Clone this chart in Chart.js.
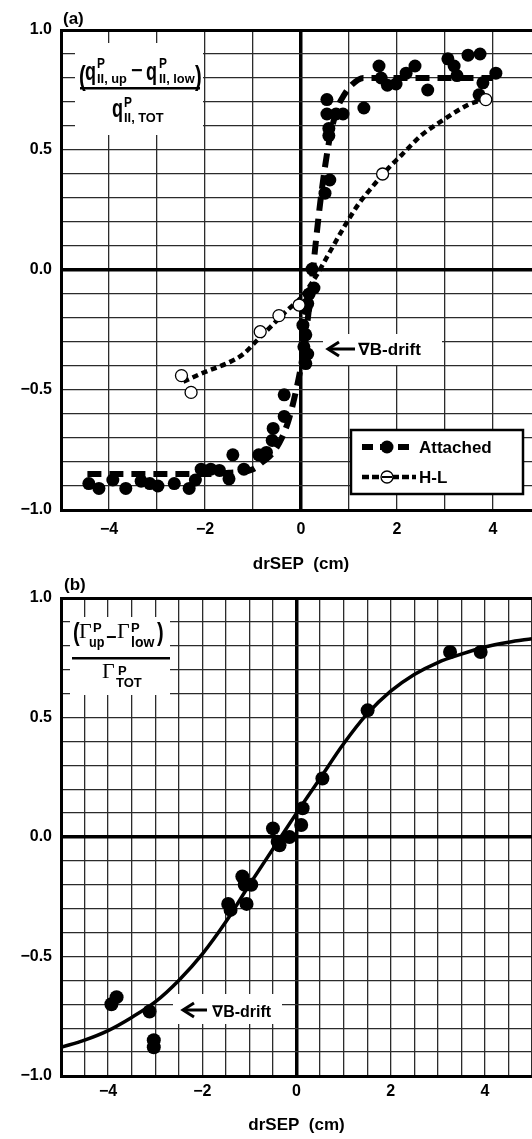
<!DOCTYPE html>
<html><head><meta charset="utf-8">
<script src="https://cdn.jsdelivr.net/npm/chart.js@4.4.1/dist/chart.umd.min.js"></script>
<style>
html,body{margin:0;padding:0;background:#fff;overflow:hidden;width:532px;height:1139px;}
#ca{position:absolute;left:0;top:0;}
#cb{position:absolute;left:0;top:570px;}
</style></head><body>
<canvas id="ca" width="551" height="580"></canvas>
<canvas id="cb" width="539" height="569"></canvas>
<script>
// ---------- DATA ----------
const xTickLabels = [-4, -2, 0, 2, 4];
const yTickLabels = [1.0, 0.5, 0.0, -0.5, -1.0];

// Panel (a) - Attached (filled dots)
const attX = [-4.42,-4.21,-3.92,-3.65,-3.33,-3.15,-2.98,-2.64,-2.33,-2.2,-2.08,-1.88,-1.7,-1.5,-1.42,-1.19,-0.88,-0.72,-0.6,-0.58,-0.35,-0.35,
  0.04,0.1,0.06,0.14,0.1,0.14,0.1,0.17,0.27,0.23,
  0.5,0.6,0.58,0.58,0.54,0.54,0.73,0.875,1.31,
  1.625,1.67,1.8,1.98,2.19,2.375,2.64,3.06,3.19,3.25,3.48,3.73,4.06,3.79,3.71];
const attY = [-0.89,-0.91,-0.875,-0.91,-0.88,-0.89,-0.90,-0.89,-0.91,-0.875,-0.83,-0.83,-0.835,-0.87,-0.77,-0.83,-0.77,-0.76,-0.71,-0.66,-0.61,-0.52,
  -0.23,-0.27,-0.32,-0.35,-0.39,-0.14,-0.16,-0.10,-0.075,0.004,
  0.32,0.375,0.56,0.59,0.65,0.71,0.65,0.65,0.675,
  0.85,0.80,0.77,0.775,0.82,0.85,0.75,0.88,0.85,0.81,0.895,0.90,0.82,0.78,0.73];
// Panel (a) - Attached fit (thick dashed)
const attFitX = [-4.45,-3,-2,-1.5,-1.0,-0.8,-0.6,-0.4,-0.25,-0.1,0.0,0.1,0.2,0.3,0.4,0.5,0.6,0.75,0.9,1.05,1.3,2,3,4];
const attFitY = [-0.85,-0.85,-0.85,-0.845,-0.83,-0.80,-0.765,-0.70,-0.62,-0.50,-0.40,-0.27,-0.10,0.10,0.28,0.43,0.55,0.67,0.73,0.77,0.80,0.80,0.80,0.80];
// Panel (a) - H-L (open circles)
const hlX = [-2.49,-2.29,-0.85,-0.46,-0.04,1.70,3.85];
const hlY = [-0.44,-0.51,-0.257,-0.19,-0.146,0.40,0.71];
// Panel (a) - H-L fit (short dashes)
const hlFitX = [-2.45,-2,-1.5,-1.2,-0.9,-0.6,-0.3,0,0.3,0.6,0.9,1.2,1.5,1.8,2.1,2.5,3.0,3.5,3.8];
const hlFitY = [-0.465,-0.425,-0.385,-0.35,-0.29,-0.23,-0.17,-0.115,-0.03,0.075,0.18,0.275,0.35,0.42,0.48,0.56,0.63,0.69,0.71];

// Panel (b) - points
const bX = [-3.93,-3.82,-3.12,-3.03,-3.03,-1.45,-1.4,-1.15,-1.1,-0.96,-1.06,-0.5,-0.4,-0.36,-0.15,0.1,0.13,0.55,1.51,3.26,3.91];
const bY = [-0.70,-0.67,-0.73,-0.85,-0.88,-0.28,-0.305,-0.165,-0.2,-0.2,-0.28,0.036,-0.02,-0.035,0.0,0.05,0.12,0.245,0.53,0.774,0.774];
// Panel (b) - fit (solid)
const bFitX = [-5,-4.5,-4,-3.5,-3,-2.5,-2,-1.5,-1,-0.5,0,0.5,1,1.5,2,2.5,3,3.5,4,4.5,5];
const bFitY = [-0.88,-0.85,-0.81,-0.755,-0.69,-0.60,-0.49,-0.355,-0.20,-0.05,0.10,0.245,0.39,0.515,0.61,0.68,0.73,0.765,0.795,0.815,0.83];

// ---------- HELPERS ----------
const FONT = "'Liberation Sans', Arial, 'DejaVu Sans', sans-serif";
const SERIF = "'Liberation Serif', 'DejaVu Serif', serif";
function fmtNum(v, d) { return (v < -1e-9 ? '\u2212' : '') + Math.abs(v).toFixed(d); }
function toPts(xs, ys) { return xs.map((x, i) => ({ x: x, y: ys[i] })); }
function near(a, b) { return Math.abs(a - b) < 1e-6; }

function makeScales(xStep, xAxisH, titlePadBottom, tickPadX) {
  return {
    x: {
      type: 'linear', min: -5, max: 5,
      ticks: {
        stepSize: xStep, autoSkip: false, maxRotation: 0, padding: tickPadX, color: '#000',
        font: { family: FONT, size: 16, weight: 'bold' },
        callback: (v) => { const m = xTickLabels.find(t => near(t, v)); return m === undefined ? '' : fmtNum(m, 0); }
      },
      grid: {
        drawTicks: false,
        color: (c) => (c.tick && near(c.tick.value, 0)) ? '#000' : '#2b2b2b',
        lineWidth: (c) => (c.tick && near(c.tick.value, 0)) ? 3.5 : 1.3
      },
      border: { display: true, color: '#000', width: 3 },
      title: { display: true, text: 'drSEP  (cm)', color: '#000', font: { family: FONT, size: 17, weight: 'bold' }, padding: { top: 0, bottom: titlePadBottom } },
      afterFit: (s) => { s.height = xAxisH; }
    },
    y: {
      type: 'linear', min: -1, max: 1,
      ticks: {
        stepSize: 0.1, autoSkip: false, padding: 9, color: '#000',
        font: { family: FONT, size: 16, weight: 'bold' },
        callback: (v) => { const m = yTickLabels.find(t => near(t, v)); return m === undefined ? '' : fmtNum(m, 1); }
      },
      grid: {
        drawTicks: false,
        color: (c) => (c.tick && (near(c.tick.value, 0) || near(c.tick.value, 1))) ? '#000' : '#2b2b2b',
        lineWidth: (c) => (c.tick && near(c.tick.value, 0)) ? 3.5 : ((c.tick && near(c.tick.value, 1)) ? 3 : 1.3)
      },
      border: { display: true, color: '#000', width: 3 },
      afterFit: (s) => { s.width = 61; }
    }
  };
}

function t(ctx, s, x, y, size, weight, family, sx) {
  ctx.save();
  ctx.font = (weight || 'bold') + ' ' + size + 'px ' + (family || FONT);
  ctx.fillStyle = '#000';
  ctx.textAlign = 'left';
  ctx.textBaseline = 'alphabetic';
  ctx.translate(x, y);
  ctx.scale(sx || 1, 1);
  ctx.fillText(s, 0, 0);
  ctx.restore();
}
function arrowLeft(ctx, x, y, len) {
  ctx.save();
  ctx.strokeStyle = '#000'; ctx.lineWidth = 3; ctx.lineCap = 'butt'; ctx.lineJoin = 'miter';
  ctx.beginPath(); ctx.moveTo(x + 1, y); ctx.lineTo(x + len, y); ctx.stroke();
  ctx.beginPath(); ctx.moveTo(x + 12, y - 7); ctx.lineTo(x + 1, y); ctx.lineTo(x + 12, y + 7); ctx.stroke();
  ctx.restore();
}

const annA = {
  id: 'annA',
  afterDraw(chart) {
    const ctx = chart.ctx;
    ctx.save();
    t(ctx, '(a)', 63, 23.5, 17);
    // label box
    ctx.fillStyle = '#fff'; ctx.fillRect(75, 43, 128, 92);
    t(ctx, '(', 79, 85, 27, 'bold', FONT, 0.75);
    t(ctx, 'q', 85, 80, 25, 'bold', FONT, 0.72);
    t(ctx, 'P', 97, 68, 14, 'bold', FONT, 0.85);
    t(ctx, 'II, up', 97, 83, 13.5, 'bold', FONT, 0.95);
    t(ctx, '\u2212', 131, 77, 20);
    t(ctx, 'q', 146, 80, 25, 'bold', FONT, 0.72);
    t(ctx, 'P', 159, 68, 14, 'bold', FONT, 0.85);
    t(ctx, 'II, low', 159, 83, 13.5, 'bold', FONT, 0.95);
    t(ctx, ')', 195, 85, 27, 'bold', FONT, 0.75);
    ctx.fillStyle = '#000'; ctx.fillRect(80, 87, 120, 2.5);
    t(ctx, 'q', 112, 117, 25, 'bold', FONT, 0.72);
    t(ctx, 'P', 124, 107, 14, 'bold', FONT, 0.85);
    t(ctx, 'II, TOT', 124, 122, 13.5, 'bold', FONT, 0.95);
    // grad-B drift
    ctx.fillStyle = '#fff'; ctx.fillRect(323, 334, 119, 31);
    arrowLeft(ctx, 327, 349, 28);
    t(ctx, '\u2207B-drift', 358, 355, 17);
    // legend
    ctx.fillStyle = '#fff'; ctx.fillRect(351, 430, 172, 64);
    ctx.strokeStyle = '#000'; ctx.lineWidth = 2.5; ctx.strokeRect(351, 430, 172, 64);
    ctx.lineWidth = 6; ctx.setLineDash([11, 7]);
    ctx.beginPath(); ctx.moveTo(362, 447); ctx.lineTo(416, 447); ctx.stroke();
    ctx.fillStyle = '#000'; ctx.beginPath(); ctx.arc(387, 447, 6.5, 0, Math.PI * 2); ctx.fill();
    ctx.lineWidth = 4.5; ctx.setLineDash([7, 3]);
    ctx.beginPath(); ctx.moveTo(362, 477); ctx.lineTo(416, 477); ctx.stroke();
    ctx.setLineDash([]);
    ctx.fillStyle = '#fff'; ctx.beginPath(); ctx.arc(387, 477, 6, 0, Math.PI * 2); ctx.fill();
    ctx.lineWidth = 1.3; ctx.stroke();
    ctx.lineWidth = 2; ctx.beginPath(); ctx.moveTo(382, 477); ctx.lineTo(392, 477); ctx.stroke();
    t(ctx, 'Attached', 419, 453, 17);
    t(ctx, 'H-L', 419, 483, 17);
    ctx.restore();
  }
};

const annB = {
  id: 'annB',
  afterDraw(chart) {
    const ctx = chart.ctx;
    const o = 570;
    ctx.save();
    t(ctx, '(b)', 64, 590 - o, 17);
    ctx.fillStyle = '#fff'; ctx.fillRect(70, 617 - o, 100, 78);
    t(ctx, '(', 73, 641 - o, 25, 'bold', FONT, 0.8);
    t(ctx, '\u0393', 79, 638 - o, 22, 'normal', SERIF);
    t(ctx, 'P', 93, 632 - o, 13);
    t(ctx, 'up', 89, 647 - o, 14, 'bold', FONT, 0.9);
    t(ctx, '\u2212', 106, 643 - o, 18);
    t(ctx, '\u0393', 117, 638 - o, 22, 'normal', SERIF);
    t(ctx, 'P', 131, 632 - o, 13);
    t(ctx, 'low', 131, 647 - o, 14);
    t(ctx, ')', 157, 641 - o, 25, 'bold', FONT, 0.8);
    ctx.fillStyle = '#000'; ctx.fillRect(72, 657 - o, 98, 2.5);
    t(ctx, '\u0393', 102, 678 - o, 22, 'normal', SERIF);
    t(ctx, 'P', 118, 675 - o, 13);
    t(ctx, 'TOT', 116, 687 - o, 13);
    ctx.fillStyle = '#fff'; ctx.fillRect(173, 994 - o, 109, 30);
    arrowLeft(ctx, 182, 1010 - o, 25);
    t(ctx, '\u2207B-drift', 212, 1017 - o, 16);
    ctx.restore();
  }
};

const common = {
  animation: false, responsive: false, maintainAspectRatio: false, devicePixelRatio: 1, events: [],
  plugins: { legend: { display: false }, tooltip: { enabled: false } }
};

new Chart(document.getElementById('ca'), {
  type: 'scatter',
  data: {
    datasets: [
      { data: toPts(attFitX, attFitY), showLine: true, pointRadius: 0, borderColor: '#000', borderWidth: 6, borderDash: [14, 8], cubicInterpolationMode: 'monotone', order: 4 },
      { data: toPts(hlFitX, hlFitY), showLine: true, pointRadius: 0, borderColor: '#000', borderWidth: 4.5, borderDash: [6, 4], cubicInterpolationMode: 'monotone', order: 3 },
      { data: toPts(attX, attY), pointRadius: 6.5, pointBackgroundColor: '#000', pointBorderWidth: 0, order: 1 },
      { data: toPts(hlX, hlY), pointRadius: 6, pointBackgroundColor: '#fff', pointBorderColor: '#000', pointBorderWidth: 1.3, order: 0 }
    ]
  },
  options: Object.assign({}, common, {
    layout: { padding: { top: 30, right: 5, left: 0, bottom: 0 } },
    scales: makeScales(1, 70, 5, 10)
  }),
  plugins: [annA]
});

new Chart(document.getElementById('cb'), {
  type: 'scatter',
  data: {
    datasets: [
      { data: toPts(bFitX, bFitY), showLine: true, pointRadius: 0, borderColor: '#000', borderWidth: 3.5, cubicInterpolationMode: 'monotone', order: 2 },
      { data: toPts(bX, bY), pointRadius: 7, pointBackgroundColor: '#000', pointBorderWidth: 0, order: 1 }
    ]
  },
  options: Object.assign({}, common, {
    layout: { padding: { top: 28, right: 0, left: 0, bottom: 0 } },
    scales: makeScales(0.5, 63, 3, 6)
  }),
  plugins: [annB]
});
</script>
</body></html>
